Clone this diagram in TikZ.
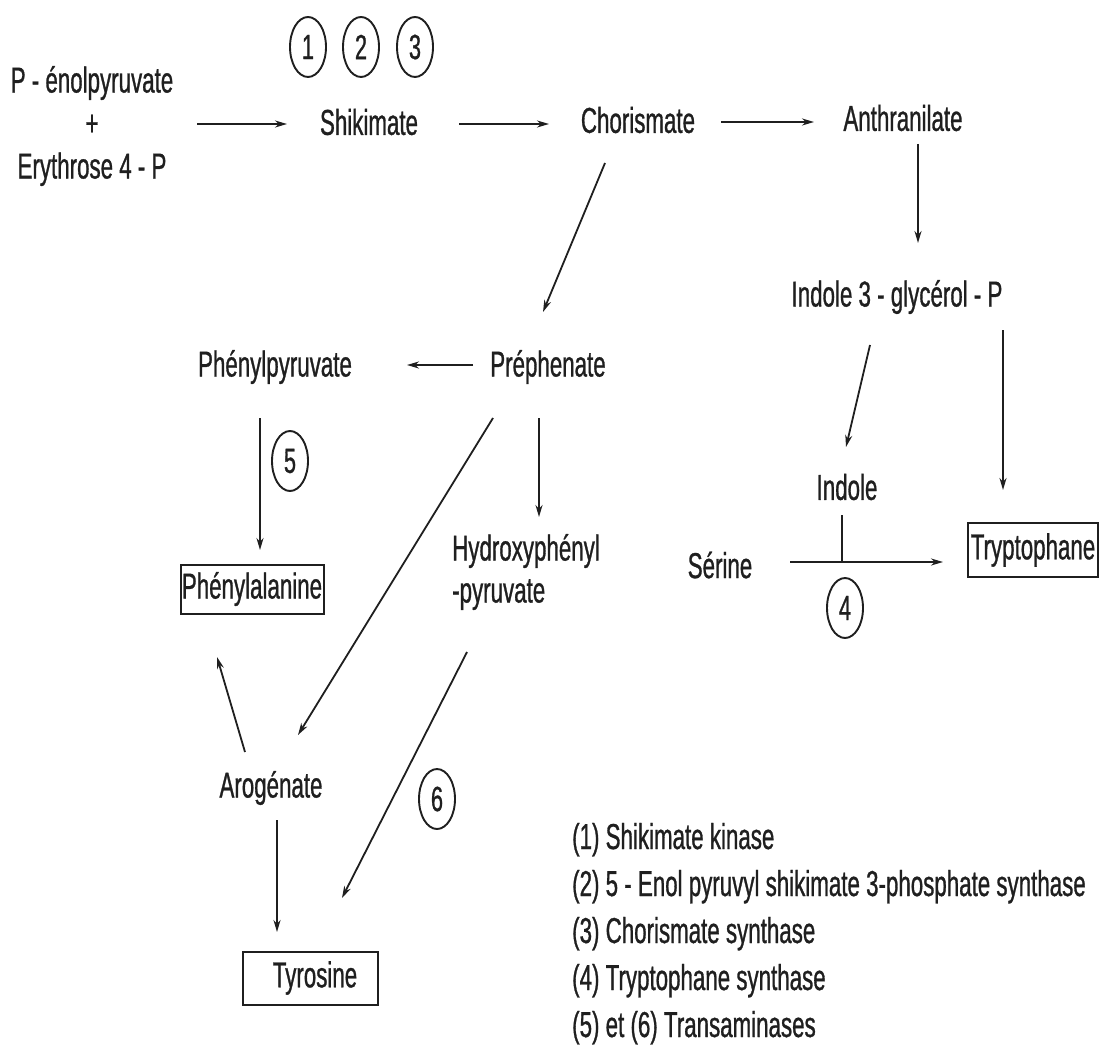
\documentclass[tikz,border=0pt]{standalone}
\usepackage{fontspec}
\setmainfont{Liberation Sans}[FakeStretch=0.62,FakeBold=0.8]
\usetikzlibrary{arrows.meta,shapes.geometric}
\begin{document}
\begin{tikzpicture}[x=1pt,y=-1pt,
  lbl/.style={font=\fontsize{36}{42}\selectfont, inner sep=1pt, text=black!88},
  enz/.style={ellipse, draw=black!88, line width=1.9pt, minimum width=36pt, minimum height=60pt, inner sep=0pt, font=\fontsize{35}{35}\selectfont, text=black!88},
  arr/.style={line width=1.8pt, draw=black!88, -{Stealth[length=12pt,width=7pt]}},
  ln/.style={line width=1.8pt, draw=black!88},
  boxed/.style={draw=black!88, line width=2pt, inner sep=0pt}]
\useasboundingbox[fill=white] (0,0) rectangle (1102,1048);

% compounds
\node[lbl, align=center, font=\fontsize{36}{43}\selectfont] (pep) at (92,126) {P - énolpyruvate\\+\\Erythrose 4 - P};
\node[lbl] (shik) at (369,122) {Shikimate};
\node[lbl] (chor) at (638,120) {Chorismate};
\node[lbl] (anth) at (903,118) {Anthranilate};
\node[lbl] (igp) at (897,297) {Indole 3 - glycérol - P};
\node[lbl] (prep) at (548,367) {Préphenate};
\node[lbl] (phpyr) at (275,367) {Phénylpyruvate};
\node[lbl, boxed, minimum width=143pt, minimum height=49pt] (phe) at (252,589) {Phénylalanine};
\node[lbl, align=left, anchor=west] (hpp) at (451,572) {Hydroxyphényl\\-pyruvate};
\node[lbl] (aro) at (271,788) {Arogénate};
\node[boxed, minimum width=135pt, minimum height=53pt] (tyrbox) at (310.5,978.5) {};
\node[lbl] (tyr) at (315,978) {Tyrosine};
\node[lbl] (ind) at (847,487) {Indole};
\node[lbl] (ser) at (720,565) {Sérine};
\node[lbl, boxed, minimum width=130pt, minimum height=54pt] (trp) at (1033,550) {Tryptophane};

% enzymes
\node[enz] (e1) at (308,47) {1};
\node[enz] (e2) at (361,47) {2};
\node[enz] (e3) at (415,47) {3};
\node[enz] (e4) at (845,608) {4};
\node[enz] (e5) at (290,461) {5};
\node[enz] (e6) at (437,799) {6};

% legend
\node[lbl, anchor=base west] (l1) at (571,849) {(1) Shikimate kinase};
\node[lbl, anchor=base west] (l2) at (571,896) {(2) 5 - Enol pyruvyl shikimate 3-phosphate synthase};
\node[lbl, anchor=base west] (l3) at (571,943) {(3) Chorismate synthase};
\node[lbl, anchor=base west] (l4) at (571,990) {(4) Tryptophane synthase};
\node[lbl, anchor=base west] (l5) at (571,1037) {(5) et (6) Transaminases};

% connectors
\draw[arr] ([shift={(105,-2)}]pep.center) -- ([shift={(-82,2)}]shik.center);
\draw[arr] ([shift={(90,2)}]shik.center) -- ([shift={(-89,4)}]chor.center);
\draw[arr] ([shift={(83,2)}]chor.center) -- ([shift={(-89,4)}]anth.center);
\draw[arr] ([shift={(15,26)}]anth.center) -- ([shift={(21,-54)}]igp.center);
\draw[arr] ([shift={(-33,43)}]chor.center) -- ([shift={(-5,-55)}]prep.center);
\draw[arr] ([shift={(-75,-2)}]prep.center) -- ([shift={(132,-2)}]phpyr.center);
\draw[arr] ([shift={(-15,51)}]phpyr.center) -- ([shift={(8,-39)}]phe.center);
\draw[arr] ([shift={(-9,51)}]prep.center) -- ([shift={(88,-55)}]hpp.west);
\draw[arr] ([shift={(-55,51)}]prep.center) -- ([shift={(27,-53)}]aro.center);
\draw[arr] ([shift={(-26,-36)}]aro.center) -- ([shift={(-35,68)}]phe.center);
\draw[arr] ([shift={(6,32)}]aro.center) -- ([shift={(-33.5,-46.5)}]tyrbox.center);
\draw[arr] ([shift={(16,80)}]hpp.west) -- ([shift={(31.5,-80.5)}]tyrbox.center);
\draw[arr] ([shift={(-27,48)}]igp.center) -- ([shift={(-1,-40)}]ind.center);
\draw[arr] ([shift={(106,33)}]igp.center) -- ([shift={(-30,-60)}]trp.center);
\draw[arr] ([shift={(70,-3)}]ser.center) -- ([shift={(-90,12)}]trp.center);
\coordinate (jn) at ([shift={(-5,75)}]ind.center);
\draw[ln] ([shift={(-5,28)}]ind.center) -- (jn);
\end{tikzpicture}
\end{document}
